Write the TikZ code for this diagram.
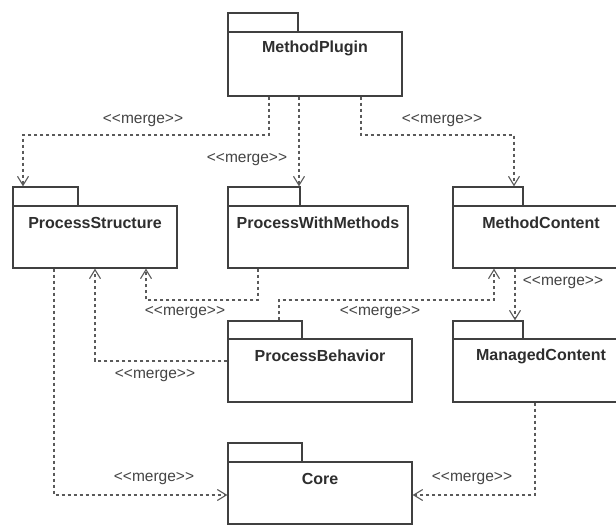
\documentclass[tikz,border=0pt]{standalone}
\usepackage{fontspec}
\setmainfont{Liberation Sans}
\newfontfamily\lblfont{Liberation Sans}
\usetikzlibrary{arrows.meta,fit,calc}
\definecolor{ln}{HTML}{404040}
\definecolor{dl}{HTML}{5A5A5A}
\definecolor{tx}{HTML}{2E2E2E}
\definecolor{lt}{HTML}{444444}
\tikzset{
 pkg/.style={draw=ln, line width=1.3pt, inner sep=0pt, fill=white},
 pkgname/.style={font=\lblfont\bfseries\fontsize{16}{18}\selectfont, text=tx, inner sep=0pt},
 mergelbl/.style={font=\lblfont\fontsize{15.5}{18}\selectfont, text=lt, inner sep=0pt},
 merge/.style={draw=dl, line width=1.3pt, dash pattern=on 3pt off 3pt,
   -{Straight Barb[length=9pt,width=11pt,line width=1.1pt]}},
}
\begin{document}
\begin{tikzpicture}[x=1pt,y=-1pt]
\useasboundingbox (0,0) rectangle (616,525);
\clip (0,0) rectangle (616,525);
\fill[white] (0,0) rectangle (616,525);

% packages
\node[pkg, fit={(228,13) (298,32)}] (mp-tab) {};
\node[pkg, fit={(228,32) (402,96)}] (mp) {};
\node[pkgname] (mp-l) at (315,48) {MethodPlugin};

\node[pkg, fit={(13,187) (78,206)}] (ps-tab) {};
\node[pkg, fit={(13,206) (177,268)}] (ps) {};
\node[pkgname] (ps-l) at (95,223) {ProcessStructure};

\node[pkg, fit={(228,187) (300,206)}] (pwm-tab) {};
\node[pkg, fit={(228,206) (408,268)}] (pwm) {};
\node[pkgname] (pwm-l) at (318,223) {ProcessWithMethods};

\node[pkg, fit={(453,187) (523,206)}] (mc-tab) {};
\node[pkg, fit={(453,206) (629,268)}] (mc) {};
\node[pkgname] (mc-l) at (541,223) {MethodContent};

\node[pkg, fit={(228,321) (302,339)}] (pb-tab) {};
\node[pkg, fit={(228,339) (412,402)}] (pb) {};
\node[pkgname] (pb-l) at (320,356) {ProcessBehavior};

\node[pkg, fit={(453,321) (523,339)}] (mgc-tab) {};
\node[pkg, fit={(453,339) (629,402)}] (mgc) {};
\node[pkgname] (mgc-l) at (541,356) {ManagedContent};

\node[pkg, fit={(228,443) (302,462)}] (core-tab) {};
\node[pkg, fit={(228,462) (412,524)}] (core) {};
\node[pkgname] (core-l) at (320,479) {Core};

% connectors
\draw[merge] (269,0 |- mp.south) -- (269,135) -| (23,0 |- ps-tab.north);
\draw[merge] (299,0 |- mp.south) -- (299,0 |- pwm-tab.north);
\draw[merge] (361,0 |- mp.south) -- (361,135) -| (514,0 |- mc-tab.north);
\draw[merge] (258,0 |- pwm.south) -- (258,300) -| (146,0 |- ps.south);
\draw[merge] (pb.west |- 0,361) -| (95,0 |- ps.south);
\draw[merge] (279,0 |- pb-tab.north) -- (279,300) -| (494,0 |- mc.south);
\draw[merge] (515,0 |- mc.south) -- (515,0 |- mgc-tab.north);
\draw[merge] (54,0 |- ps.south) |- (core.west |- 0,495);
\draw[merge] (535,0 |- mgc.south) |- (core.east |- 0,495);

% labels
\node[mergelbl] (l1) at (143,121) {<<merge>>};
\node[mergelbl] (l2) at (247,160) {<<merge>>};
\node[mergelbl] (l3) at (442,121) {<<merge>>};
\node[mergelbl] (l4) at (185,313) {<<merge>>};
\node[mergelbl] (l5) at (155,376) {<<merge>>};
\node[mergelbl] (l6) at (380,313) {<<merge>>};
\node[mergelbl] (l7) at (563,283) {<<merge>>};
\node[mergelbl] (l8) at (154,479) {<<merge>>};
\node[mergelbl] (l9) at (472,479) {<<merge>>};
\end{tikzpicture}
\end{document}
